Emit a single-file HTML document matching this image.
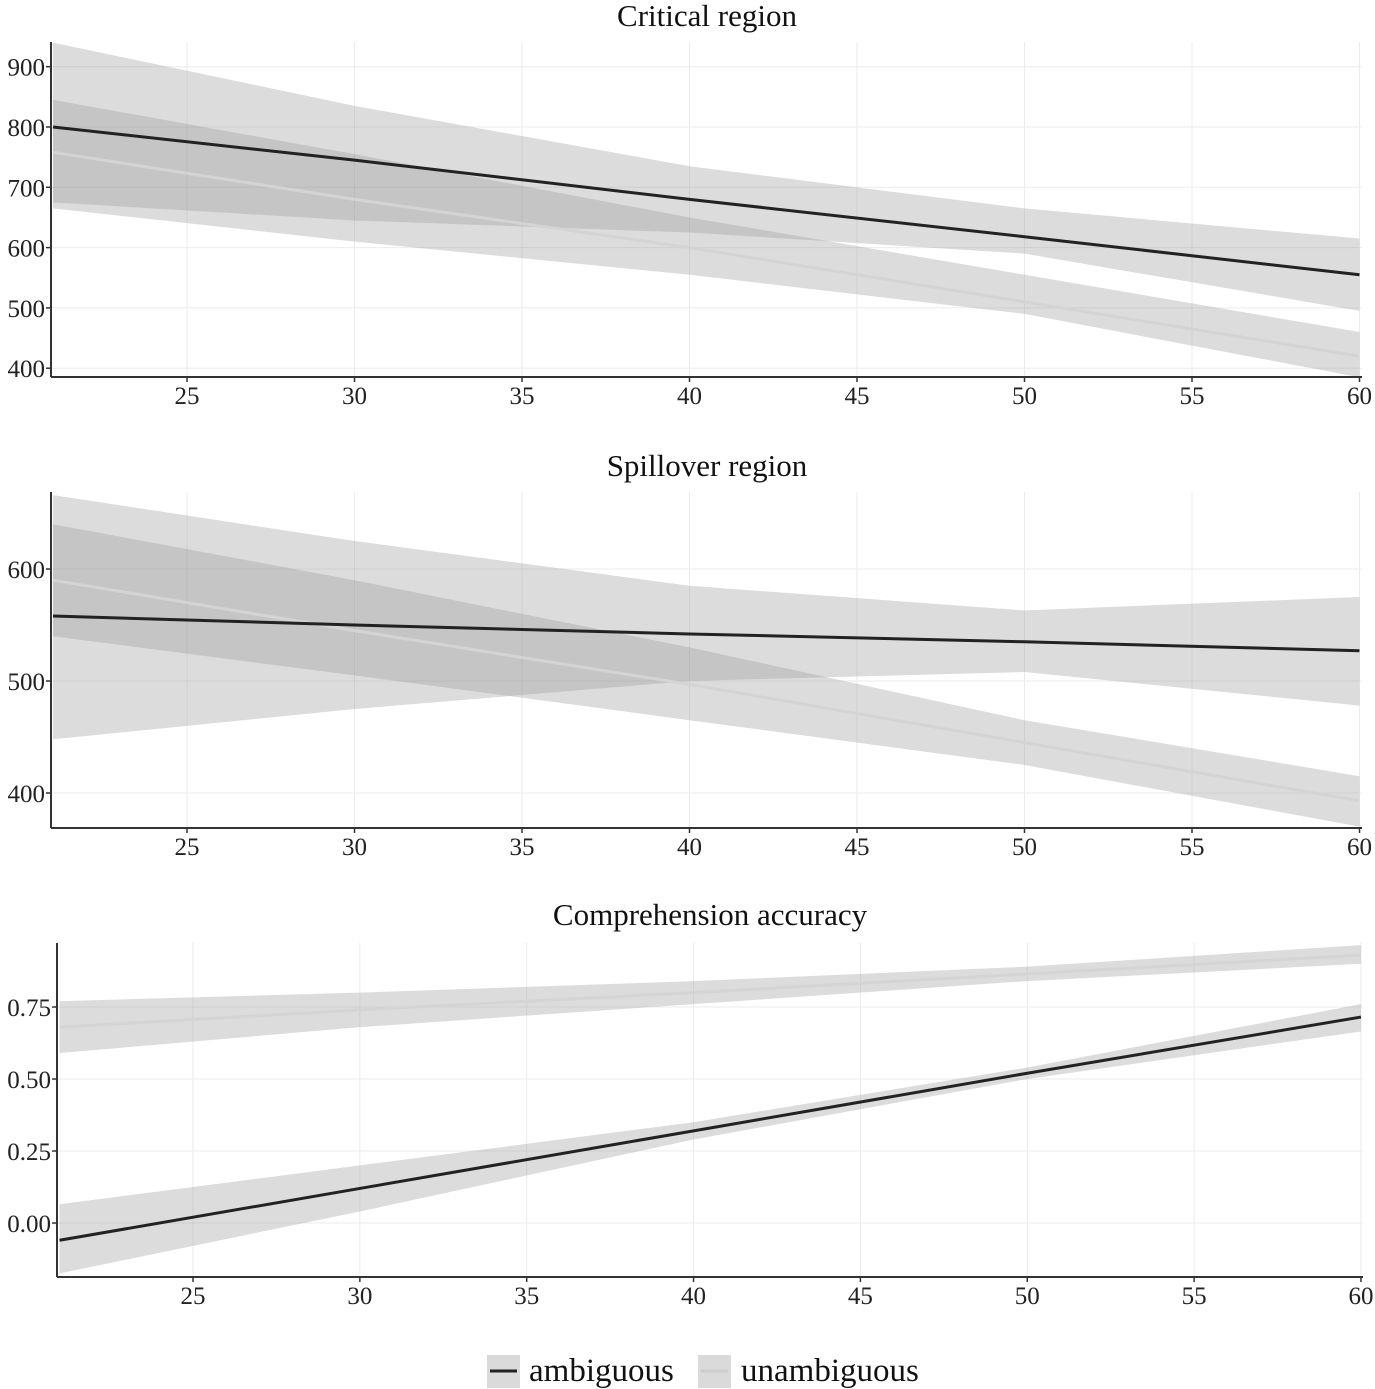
<!DOCTYPE html>
<html><head><meta charset="utf-8"><style>
body{margin:0;background:#fff}
svg{display:block;font-family:"Liberation Serif",serif}
</style></head><body>
<svg id="c" width="1375" height="1389" viewBox="0 0 1375 1389" xmlns="http://www.w3.org/2000/svg"></svg>
<script>
const xs=[21,30,40,50,60];
const xTicks=[25,30,35,40,45,50,55,60];
// Critical region
const critAmbFit=[800,745,680,618,555];
const critAmbUp=[940,835,735,665,615];
const critAmbLo=[675,645,625,590,495];
const critUnFit=[758,680,600,510,420];
const critUnUp=[845,755,650,555,460];
const critUnLo=[665,610,555,490,385];
const critTicks=[400,500,600,700,800,900];
// Spillover region
const spAmbFit=[558,550,542,535,527];
const spAmbUp=[666,625,585,563,575];
const spAmbLo=[448,475,500,508,478];
const spUnFit=[590,545,497,445,393];
const spUnUp=[640,590,530,465,415];
const spUnLo=[540,505,465,425,370];
const spTicks=[400,500,600];
// Comprehension accuracy
const caAmbFit=[-0.06,0.12,0.32,0.52,0.715];
const caAmbUp=[0.065,0.20,0.35,0.54,0.76];
const caAmbLo=[-0.175,0.04,0.29,0.50,0.665];
const caUnFit=[0.68,0.74,0.80,0.865,0.93];
const caUnUp=[0.77,0.80,0.84,0.89,0.965];
const caUnLo=[0.59,0.68,0.76,0.84,0.90];
const caTicks=[0.00,0.25,0.50,0.75];
const caTickLabels=["0.00","0.25","0.50","0.75"];

const svg=document.getElementById('c');
const NS="http://www.w3.org/2000/svg";
function mk(tag,attrs,parent){const e=document.createElementNS(NS,tag);for(const k in attrs)e.setAttribute(k,attrs[k]);(parent||svg).appendChild(e);return e;}

function panel(o){
  const g=mk('g',{});
  
  
  const X=v=>o.x0+(v-o.xv0)*o.xs;
  const Y=v=>o.y0-(v-o.yv0)*o.ys;
  xTicks.forEach(t=>{const l=mk('line',{x1:X(t),x2:X(t),y1:o.top,y2:o.bottom,stroke:'#ebebeb','stroke-width':1},g);
    });
  o.ticks.forEach(t=>{const l=mk('line',{x1:o.axisX,x2:o.right,y1:Y(t),y2:Y(t),stroke:'#ebebeb','stroke-width':1},g);
    });
  function band(up,lo,nm){
    const pts=xs.map((x,i)=>X(x)+','+Y(up[i])).concat(xs.map((x,i)=>X(x)+','+Y(lo[i])).reverse());
    const p=mk('polygon',{points:pts.join(' '),fill:'#999','fill-opacity':0.34},g);
    
  }
  function line(f,col,nm){
    const p=mk('polyline',{points:xs.map((x,i)=>X(x)+','+Y(f[i])).join(' '),fill:'none',stroke:col,'stroke-width':3},g);
    
  }
  band(o.unUp,o.unLo,'unambiguous-ci-band');
  band(o.ambUp,o.ambLo,'ambiguous-ci-band');
  line(o.unFit,'#d4d4d4','unambiguous-line');
  line(o.ambFit,'#222','ambiguous-line');
  const ya=mk('line',{x1:o.axisX,x2:o.axisX,y1:o.top,y2:o.bottom,stroke:'#333','stroke-width':2},g);
  
  const xa=mk('line',{x1:o.axisX,x2:o.right,y1:o.bottom,y2:o.bottom,stroke:'#333','stroke-width':2},g);
  
  xTicks.forEach(t=>{mk('line',{x1:X(t),x2:X(t),y1:o.bottom,y2:o.bottom+5,stroke:'#333','stroke-width':1.5},g);
    const tx=mk('text',{x:X(t),y:o.bottom+27,'text-anchor':'middle','font-size':25,fill:'#222'},g);tx.textContent=t;
    });
  o.ticks.forEach((t,i)=>{mk('line',{x1:o.axisX-5,x2:o.axisX,y1:Y(t),y2:Y(t),stroke:'#333','stroke-width':1.5},g);
    const tx=mk('text',{x:o.axisX-6,y:Y(t)+9,'text-anchor':'end','font-size':25,fill:'#222'},g);tx.textContent=o.labels?o.labels[i]:t;
    });
  const ti=mk('text',{x:o.titleX,y:o.titleY,'text-anchor':'middle','font-size':31,fill:'#111'},g);ti.textContent=o.title;
  
}

panel({name:'critical-region-panel',title:'Critical region',titleX:707,titleY:26,x0:187,xv0:25,xs:33.5,y0:127,yv0:800,ys:0.603,
  axisX:51,right:1362,top:42,bottom:377,ticks:critTicks,
  ambFit:critAmbFit,ambUp:critAmbUp,ambLo:critAmbLo,unFit:critUnFit,unUp:critUnUp,unLo:critUnLo});
panel({name:'spillover-region-panel',title:'Spillover region',titleX:707,titleY:476,x0:187,xv0:25,xs:33.5,y0:681,yv0:500,ys:1.12,
  axisX:51,right:1362,top:492,bottom:828,ticks:spTicks,
  ambFit:spAmbFit,ambUp:spAmbUp,ambLo:spAmbLo,unFit:spUnFit,unUp:spUnUp,unLo:spUnLo});
panel({name:'comprehension-accuracy-panel',title:'Comprehension accuracy',titleX:710,titleY:925,x0:193,xv0:25,xs:33.37,y0:1223,yv0:0,ys:288,
  axisX:57,right:1363,top:943,bottom:1277,ticks:caTicks,labels:caTickLabels,
  ambFit:caAmbFit,ambUp:caAmbUp,ambLo:caAmbLo,unFit:caUnFit,unUp:caUnUp,unLo:caUnLo});
</script>
<svg style="position:absolute;left:0;top:0" width="1375" height="1389">
  <g font-family="Liberation Serif, serif">
    <rect x="487" y="1355" width="33" height="33" fill="#dadada"/>
    <line x1="490" x2="517" y1="1371" y2="1371" stroke="#222" stroke-width="3"/>
    <text x="529" y="1381" font-size="33" fill="#111">ambiguous</text>
  </g>
  <g font-family="Liberation Serif, serif">
    <rect x="698" y="1355" width="33" height="33" fill="#dadada"/>
    <line x1="701" x2="728" y1="1371" y2="1371" stroke="#ccc" stroke-width="3"/>
    <text x="741" y="1381" font-size="33" fill="#111">unambiguous</text>
  </g>
</svg>
</body></html>
